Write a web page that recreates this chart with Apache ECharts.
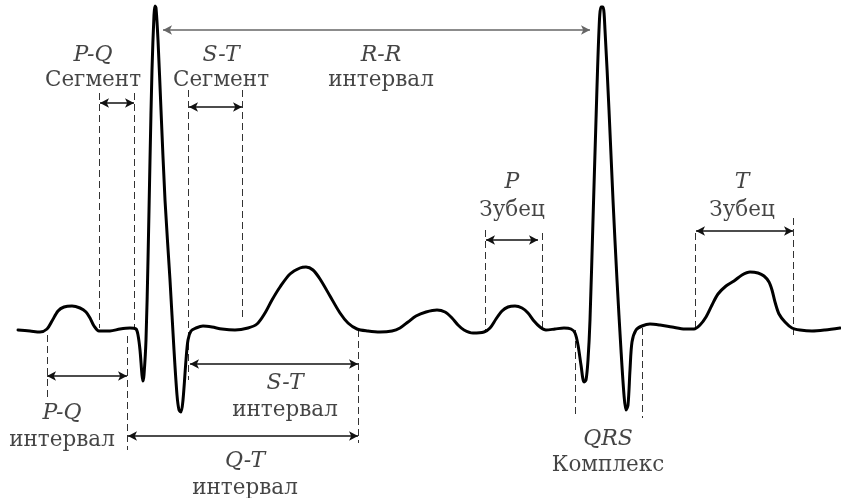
<!DOCTYPE html>
<html>
<head>
<meta charset="utf-8">
<script src="https://cdn.jsdelivr.net/npm/echarts@6/dist/echarts.min.js"></script>
<style>
html,body{margin:0;padding:0;background:#fff;}
#chart{width:841px;height:498px;}
</style>
</head>
<body>
<div id="chart"></div>
<script>
// ECG waveform: time (arbitrary units) and amplitude (arbitrary units, baseline = 0)
const ecgT = [18,30,40,47,52,58,64,72,80,86,90,94,99,110,120,130,136,138,140,142,143,144,146,148,150,152,154,155,156,158,161,165,170,174,177,179,181,183,186,188,191,196,203,212,222,235,248,257,265,272,280,290,300,306,313,320,330,340,348,357,368,380,392,400,408,416,426,437,445,452,458,464,473,484,490,496,502,508,515,522,528,534,540,546,555,564,571,575,578,581,584,586,588,590,593,596,599,601,603,605,609,613,617,621,624,626,628,630,632,636,642,650,660,672,685,694,700,706,712,718,726,734,742,750,758,764,769,772,775,779,785,792,800,812,825,840];
const ecgV = [0,-1,-2,1,9,19,23,24,22,18,12,4,-1,-1,1,2,1,-5,-20,-45,-51,-45,-10,70,170,260,315,324,322,290,220,130,50,-20,-65,-80,-82,-70,-30,-10,-1,2,4,3,1,0,2,6,17,30,43,56,62,63,60,51,34,17,7,1,-1,-2,-1,2,8,14,18,20,18,12,5,0,-3,-2,2,11,19,23,24,22,17,9,3,0,1,2,1,-3,-15,-35,-52,-50,-30,10,110,210,300,323,323,300,220,130,50,-20,-65,-80,-75,-40,-12,0,4,6,5,3,1,1,5,13,25,36,44,49,55,58,57,54,48,40,28,16,8,2,0,-1,0,2];

// Dashed guide lines: x position, top and bottom amplitude
const dashX      = [47, 127, 99, 134, 188.5, 242, 358, 485.5, 542, 575, 642, 695, 793];
const dashTop    = [-5, -6, 237, 237, 240, 240, 0, 100, 97, 0, 2, 97, 112];
const dashBottom = [-68, -120, 2, 2, -50, 12, -113, -3, 0, -88, -88, 3, -5];

// Double-headed arrows: start x, end x, amplitude level
const arrowX1 = [100, 189, 163, 47, 190, 128, 486, 696];
const arrowX2 = [134, 242, 590, 127, 358, 358, 538, 793];
const arrowY  = [227, 223, 300, -46, -34, -106, 90, 99];
const arrowGray = [false, false, true, false, false, false, false, false];

// Labels: italic caption (upper line), regular caption (lower line), anchor positions
const labelTop    = ['P-Q', 'S-T', 'R-R', 'P', 'T', 'P-Q', 'S-T', 'Q-T', 'QRS'];
const labelBottom = ['Сегмент', 'Сегмент', 'интервал', 'Зубец', 'Зубец', 'интервал', 'интервал', 'интервал', 'Комплекс'];
const labelX      = [93, 221, 381, 512, 742, 62, 285, 245, 608];
const labelTopY   = [275, 275, 275, 148, 148, -83, -53, -131, -109];
const labelBotY   = [250, 250, 250, 120, 120, -110, -80, -158, -135];

const chart = echarts.init(document.getElementById('chart'), null, {renderer: 'canvas'});

const ecgData = ecgT.map((t, i) => [t, ecgV[i]]);

const dashLines = dashX.map((x, i) => [
  {coord: [x, dashTop[i]], symbol: 'none'},
  {coord: [x, dashBottom[i]], symbol: 'none'}
]);

const arrowLines = arrowX1.map((x1, i) => [
  {coord: [x1, arrowY[i]], symbol: 'arrow', symbolSize: [7, 9],
   lineStyle: {color: arrowGray[i] ? '#666' : '#111', width: 1.5, type: 'solid'},
   itemStyle: {color: arrowGray[i] ? '#222' : '#111'}},
  {coord: [arrowX2[i], arrowY[i]], symbol: 'arrow', symbolSize: [7, 9]}
]);

const topData = labelX.map((x, i) => ({value: [x, labelTopY[i]], name: labelTop[i]}));
const botData = labelX.map((x, i) => ({value: [x, labelBotY[i]], name: labelBottom[i]}));

const serif = "'DejaVu Serif', 'Liberation Serif', 'Times New Roman', serif";

chart.setOption({
  animation: false,
  backgroundColor: '#fff',
  textStyle: {fontFamily: serif},
  grid: {left: 0, right: 0, top: 0, bottom: 0},
  xAxis: {type: 'value', min: 0, max: 841, show: false},
  yAxis: {type: 'value', min: -168, max: 330, show: false},
  series: [
    {
      type: 'line',
      data: ecgData,
      showSymbol: false,
      smooth: 0.3,
      lineStyle: {color: '#000', width: 3, join: 'round', cap: 'round'},
      z: 5,
      silent: true
    },
    {
      type: 'line',
      data: [],
      silent: true,
      markLine: {
        silent: true,
        animation: false,
        symbol: 'none',
        label: {show: false},
        lineStyle: {color: '#333', width: 1, type: [7, 4]},
        data: dashLines
      }
    },
    {
      type: 'line',
      data: [],
      silent: true,
      markLine: {
        silent: true,
        animation: false,
        label: {show: false},
        lineStyle: {color: '#111', width: 1.5, type: 'solid'},
        itemStyle: {color: '#111'},
        data: arrowLines
      }
    },
    {
      type: 'scatter',
      data: topData,
      symbolSize: 0,
      itemStyle: {color: 'rgba(0,0,0,0)'},
      silent: true,
      label: {
        show: true,
        position: 'inside',
        formatter: p => p.name,
        color: '#151515',
        fontFamily: serif,
        fontStyle: 'italic',
        fontSize: 22
      }
    },
    {
      type: 'scatter',
      data: botData,
      symbolSize: 0,
      itemStyle: {color: 'rgba(0,0,0,0)'},
      silent: true,
      label: {
        show: true,
        position: 'inside',
        formatter: p => p.name,
        color: '#151515',
        fontFamily: serif,
        fontSize: 21.5
      }
    }
  ]
});
</script>
</body>
</html>
